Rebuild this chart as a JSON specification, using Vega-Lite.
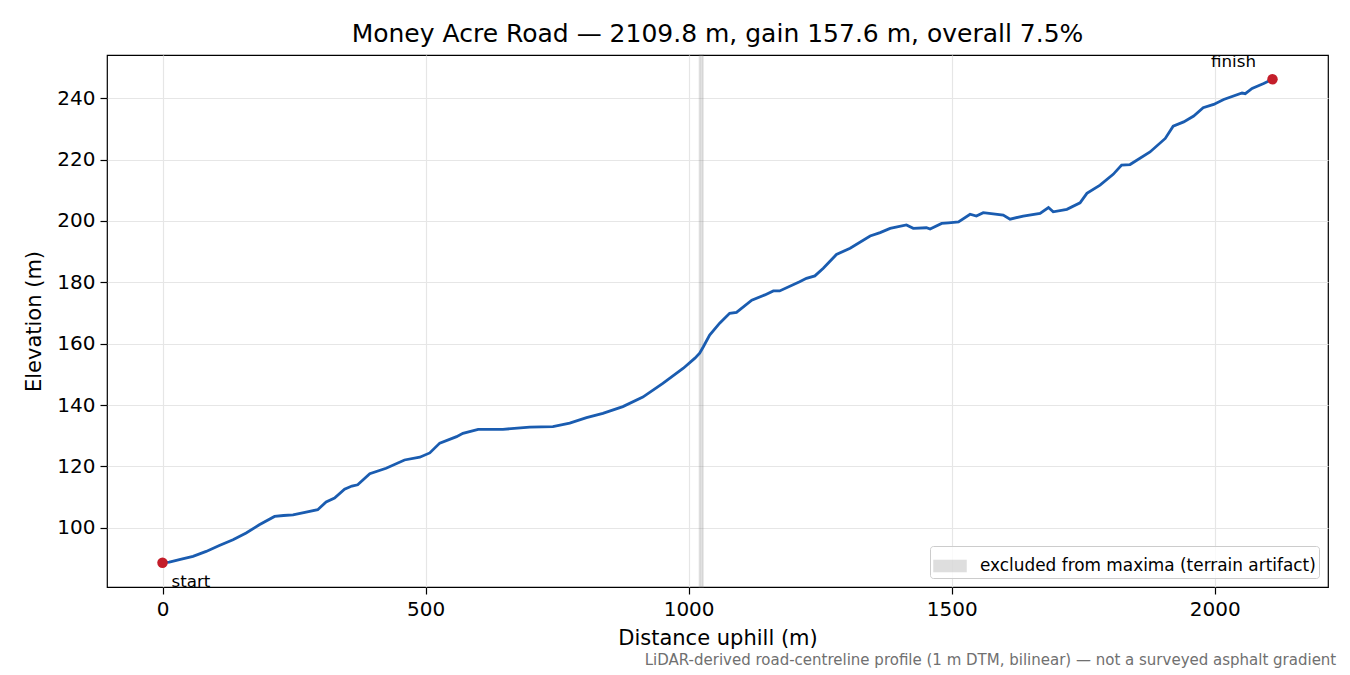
{
  "$schema": "https://vega.github.io/schema/vega-lite/v6.json",
  "width": 1221,
  "height": 532,
  "autosize": {"type": "none"},
  "padding": {"left": 107, "top": 55, "right": 22, "bottom": 88},
  "background": "white",
  "config": {
    "font": "DejaVu Sans",
    "view": {"stroke": "#000000", "strokeWidth": 1.2},
    "axis": {
      "domain": false,
      "grid": true,
      "gridColor": "#e6e6e6",
      "gridWidth": 1.2,
      "ticks": true,
      "tickColor": "#000000",
      "tickSize": 7,
      "tickWidth": 1.2,
      "labelFont": "DejaVu Sans",
      "labelFontSize": 20,
      "labelColor": "#000000",
      "labelPadding": 5,
      "titleFont": "DejaVu Sans",
      "titleFontSize": 21,
      "titleFontWeight": "normal",
      "titleColor": "#000000"
    },
    "legend": {
      "orient": "bottom-right",
      "offset": 9,
      "padding": 3,
      "strokeColor": "#cccccc",
      "fillColor": "rgba(255,255,255,0.8)",
      "cornerRadius": 3,
      "labelFont": "DejaVu Sans",
      "labelFontSize": 16.9,
      "labelColor": "#000000",
      "labelOffset": 13,
      "labelLimit": 500
    }
  },
  "title": {
    "text": "Money Acre Road — 2109.8 m, gain 157.6 m, overall 7.5%",
    "font": "DejaVu Sans",
    "fontSize": 25,
    "fontWeight": "normal",
    "color": "#000000",
    "anchor": "middle",
    "baseline": "alphabetic",
    "offset": -13
  },
  "datasets": {
    "profile": [
      {"d": 0, "e": 88.6}, {"d": 13, "e": 88.8}, {"d": 36, "e": 89.8}, {"d": 58, "e": 90.7},
      {"d": 83, "e": 92.3}, {"d": 108, "e": 94.2}, {"d": 134, "e": 96.1}, {"d": 159, "e": 98.3},
      {"d": 184, "e": 101.0}, {"d": 213, "e": 103.7}, {"d": 230, "e": 104.0}, {"d": 248, "e": 104.2},
      {"d": 273, "e": 105.1}, {"d": 295, "e": 105.9}, {"d": 311, "e": 108.4}, {"d": 327, "e": 109.7},
      {"d": 346, "e": 112.6}, {"d": 360, "e": 113.6}, {"d": 371, "e": 114.0}, {"d": 394, "e": 117.6},
      {"d": 425, "e": 119.4}, {"d": 460, "e": 122.1}, {"d": 489, "e": 123.0}, {"d": 508, "e": 124.4},
      {"d": 527, "e": 127.6}, {"d": 559, "e": 129.7}, {"d": 571, "e": 130.8}, {"d": 600, "e": 132.1},
      {"d": 647, "e": 132.1}, {"d": 698, "e": 132.8}, {"d": 742, "e": 133.0}, {"d": 774, "e": 134.1},
      {"d": 806, "e": 135.9}, {"d": 837, "e": 137.3}, {"d": 875, "e": 139.5}, {"d": 913, "e": 142.6},
      {"d": 951, "e": 147.1}, {"d": 990, "e": 152.0}, {"d": 1012, "e": 155.3}, {"d": 1021, "e": 156.9},
      {"d": 1028, "e": 159.0}, {"d": 1040, "e": 162.8}, {"d": 1059, "e": 166.7}, {"d": 1078, "e": 169.9},
      {"d": 1091, "e": 170.2}, {"d": 1120, "e": 174.2}, {"d": 1145, "e": 175.9}, {"d": 1161, "e": 177.2},
      {"d": 1173, "e": 177.2}, {"d": 1211, "e": 180.2}, {"d": 1224, "e": 181.3}, {"d": 1240, "e": 182.1},
      {"d": 1256, "e": 184.6}, {"d": 1281, "e": 189.1}, {"d": 1307, "e": 191.1}, {"d": 1345, "e": 195.1},
      {"d": 1364, "e": 196.2}, {"d": 1383, "e": 197.6}, {"d": 1414, "e": 198.7}, {"d": 1427, "e": 197.6},
      {"d": 1452, "e": 197.8}, {"d": 1459, "e": 197.4}, {"d": 1481, "e": 199.2}, {"d": 1494, "e": 199.4},
      {"d": 1513, "e": 199.7}, {"d": 1535, "e": 202.2}, {"d": 1547, "e": 201.6}, {"d": 1560, "e": 202.7},
      {"d": 1598, "e": 201.9}, {"d": 1611, "e": 200.6}, {"d": 1636, "e": 201.6}, {"d": 1668, "e": 202.5},
      {"d": 1684, "e": 204.4}, {"d": 1693, "e": 203.0}, {"d": 1719, "e": 203.8}, {"d": 1744, "e": 205.9},
      {"d": 1757, "e": 209.0}, {"d": 1782, "e": 211.7}, {"d": 1807, "e": 215.2}, {"d": 1823, "e": 218.2},
      {"d": 1839, "e": 218.4}, {"d": 1877, "e": 222.5}, {"d": 1906, "e": 226.9}, {"d": 1921, "e": 230.9},
      {"d": 1941, "e": 232.3}, {"d": 1960, "e": 234.2}, {"d": 1978, "e": 236.9}, {"d": 1998, "e": 238.0},
      {"d": 2017, "e": 239.6}, {"d": 2052, "e": 241.7}, {"d": 2058, "e": 241.5}, {"d": 2071, "e": 243.2},
      {"d": 2093, "e": 244.8}, {"d": 2109.8, "e": 246.2}
    ],
    "ends": [
      {"d": 0, "e": 88.6, "label": "start"},
      {"d": 2109.8, "e": 246.2, "label": "finish"}
    ],
    "excluded": [
      {"from": 1021, "to": 1027, "label": "excluded from maxima (terrain artifact)"}
    ],
    "note": [
      {"d": 2231, "e": 55.4, "text": "LiDAR-derived road-centreline profile (1 m DTM, bilinear) — not a surveyed asphalt gradient"}
    ]
  },
  "layer": [
    {
      "data": {"name": "excluded"},
      "mark": {"type": "rect", "fillOpacity": 0.2, "stroke": "#808080", "strokeOpacity": 0.2, "strokeWidth": 2},
      "encoding": {
        "x": {
          "field": "from", "type": "quantitative",
          "scale": {"domain": [-105.5, 2215.3], "nice": false, "zero": false},
          "axis": {"values": [0, 500, 1000, 1500, 2000], "format": "d", "title": "Distance uphill (m)", "titlePadding": 8}
        },
        "x2": {"field": "to"},
        "color": {
          "field": "label", "type": "nominal",
          "scale": {"range": ["#808080"]},
          "legend": {"title": null, "symbolType": "M-1,-0.34H1V0.34H-1Z", "symbolSize": 1024, "symbolOpacity": 0.25, "symbolStrokeColor": "#808080", "symbolStrokeWidth": 1.5}
        }
      }
    },
    {
      "data": {"name": "profile"},
      "mark": {"type": "line", "color": "#1a5cb0", "strokeWidth": 2.8},
      "encoding": {
        "x": {"field": "d", "type": "quantitative"},
        "y": {
          "field": "e", "type": "quantitative",
          "scale": {"domain": [80.7, 254.1], "nice": false, "zero": false},
          "axis": {"values": [100, 120, 140, 160, 180, 200, 220, 240], "title": "Elevation (m)", "titlePadding": 12}
        }
      }
    },
    {
      "data": {"name": "ends"},
      "mark": {"type": "circle", "color": "#c41e2a", "size": 110, "opacity": 1},
      "encoding": {
        "x": {"field": "d", "type": "quantitative"},
        "y": {"field": "e", "type": "quantitative"}
      }
    },
    {
      "data": {"name": "ends"},
      "transform": [{"filter": "datum.label === 'start'"}],
      "mark": {"type": "text", "align": "left", "baseline": "alphabetic", "dx": 9, "dy": 24, "fontSize": 16.7, "color": "#000000"},
      "encoding": {
        "x": {"field": "d", "type": "quantitative"},
        "y": {"field": "e", "type": "quantitative"},
        "text": {"field": "label"}
      }
    },
    {
      "data": {"name": "ends"},
      "transform": [{"filter": "datum.label === 'finish'"}],
      "mark": {"type": "text", "align": "center", "baseline": "alphabetic", "dx": -39, "dy": -12, "fontSize": 16.7, "color": "#000000"},
      "encoding": {
        "x": {"field": "d", "type": "quantitative"},
        "y": {"field": "e", "type": "quantitative"},
        "text": {"field": "label"}
      }
    },
    {
      "data": {"name": "note"},
      "mark": {"type": "text", "align": "right", "baseline": "alphabetic", "fontSize": 15, "color": "#707070"},
      "encoding": {
        "x": {"field": "d", "type": "quantitative"},
        "y": {"field": "e", "type": "quantitative"},
        "text": {"field": "text"}
      }
    }
  ]
}
